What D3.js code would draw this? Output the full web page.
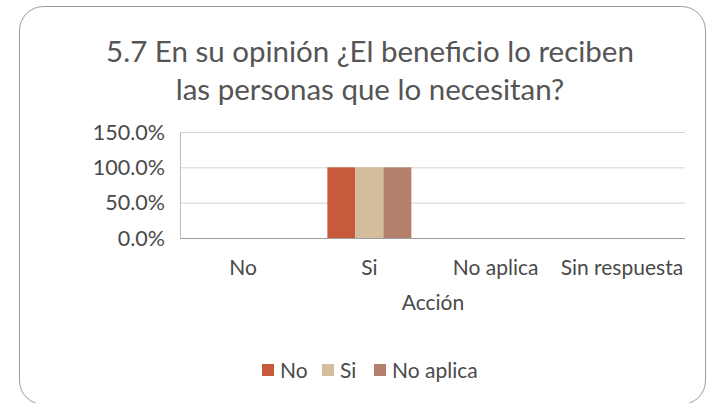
<!DOCTYPE html>
<html>
<head>
<meta charset="utf-8">
<script src="https://cdn.jsdelivr.net/npm/d3@7"></script>
<style>
  html, body { margin: 0; padding: 0; background: #fff; }
  svg { display: block; }
  text { font-family: Lato, "Open Sans", sans-serif; fill: #4a4a4a; }
</style>
</head>
<body>
<svg id="chart" width="707" height="403"></svg>
<script>
// Response categories on the x axis
const categories = ["No", "Si", "No aplica", "Sin respuesta"];
// Series (one bar per series in each category)
const seriesNames = ["No", "Si", "No aplica"];
const seriesNo       = [null, 1.0, null, null];
const seriesSi       = [null, 1.0, null, null];
const seriesNoAplica = [null, 1.0, null, null];
const seriesValues = [seriesNo, seriesSi, seriesNoAplica];
const yTicks = [0, 0.5, 1.0, 1.5];
const seriesColors = ["#c65a3b", "#d3bd9c", "#b5806b"];
const titleLines = ["5.7 En su opinión ¿El beneficio lo reciben", "las personas que lo necesitan?"];
const xAxisTitle = "Acción";

const svg = d3.select("#chart");

// Rounded outer frame
svg.append("rect")
  .attr("x", 19.5).attr("y", 6.5)
  .attr("width", 686).attr("height", 398)
  .attr("rx", 24).attr("ry", 24)
  .attr("fill", "#fff")
  .attr("stroke", "#9a9a9a").attr("stroke-width", 1);

// Title
svg.append("g").selectAll("text")
  .data(titleLines).join("text")
  .attr("x", 370).attr("y", (d, i) => 62 + i * 38)
  .attr("text-anchor", "middle")
  .attr("font-size", 29.5)
  .style("fill", "#555")
  .text(d => d);

const plot = { left: 180, right: 685, top: 132, bottom: 238 };

const x = d3.scaleBand().domain(categories).range([plot.left, plot.right]).paddingInner(0).paddingOuter(0);
const y = d3.scaleLinear().domain([0, 1.5]).range([plot.bottom, plot.top]);
const groupW = 84;
const xs = d3.scaleBand().domain(seriesNames).range([0, groupW]).padding(0);

// Gridlines
svg.append("g").selectAll("line")
  .data(yTicks.filter(t => t > 0)).join("line")
  .attr("x1", plot.left).attr("x2", plot.right)
  .attr("y1", d => y(d) + 0.5).attr("y2", d => y(d) + 0.5)
  .attr("stroke", "#d4d4d4").attr("stroke-width", 1);

// Bars
const bars = [];
seriesValues.forEach((vals, si) => {
  vals.forEach((v, ci) => {
    if (v != null) bars.push({ s: seriesNames[si], si, c: categories[ci], v });
  });
});
svg.append("g").selectAll("rect")
  .data(bars).join("rect")
  .attr("x", d => x(d.c) + x.bandwidth() / 2 - groupW / 2 + xs(d.s))
  .attr("y", d => y(d.v))
  .attr("width", xs.bandwidth())
  .attr("height", d => y(0) - y(d.v))
  .attr("fill", d => seriesColors[d.si]);

// Axis lines
svg.append("line")
  .attr("x1", plot.left + 0.5).attr("x2", plot.left + 0.5)
  .attr("y1", plot.top).attr("y2", plot.bottom)
  .attr("stroke", "#bdbdbd");
svg.append("line")
  .attr("x1", plot.left).attr("x2", plot.right)
  .attr("y1", plot.bottom + 0.5).attr("y2", plot.bottom + 0.5)
  .attr("stroke", "#9e9e9e");

// Y tick labels
const fmt = d3.format(".1%");
svg.append("g").selectAll("text")
  .data(yTicks).join("text")
  .attr("x", 165).attr("y", d => y(d) + 7.5)
  .attr("text-anchor", "end")
  .attr("font-size", 21.5)
  .text(d => fmt(d));

// X category labels
svg.append("g").selectAll("text")
  .data(categories).join("text")
  .attr("x", d => x(d) + x.bandwidth() / 2)
  .attr("y", 275)
  .attr("text-anchor", "middle")
  .attr("font-size", 21)
  .text(d => d);

// X axis title
svg.append("text")
  .attr("x", 433).attr("y", 310)
  .attr("text-anchor", "middle")
  .attr("font-size", 21)
  .text(xAxisTitle);

// Legend
const legendX = [262, 322, 374];
const lg = svg.append("g").selectAll("g")
  .data(seriesNames).join("g")
  .attr("transform", (d, i) => `translate(${legendX[i]},364)`);
lg.append("rect").attr("width", 12).attr("height", 12)
  .attr("fill", (d, i) => seriesColors[i]);
lg.append("text").attr("x", 18).attr("y", 13.5)
  .attr("font-size", 21)
  .text(d => d);
</script>
</body>
</html>
